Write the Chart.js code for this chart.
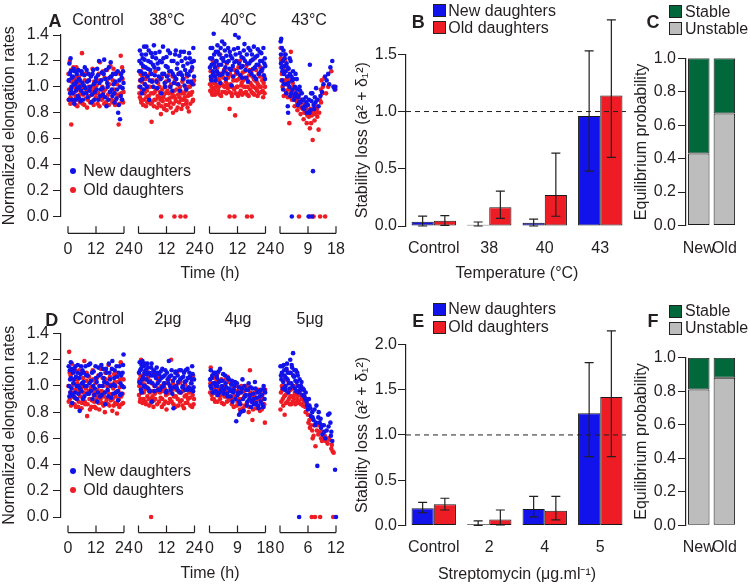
<!DOCTYPE html>
<html>
<head>
<meta charset="utf-8">
<script src="https://cdn.jsdelivr.net/npm/chart.js@4.4.1/dist/chart.umd.min.js"></script>
<style>
  body { margin: 0; background: #fff; }
  #fig { position: relative; width: 750px; height: 587px; overflow: hidden;
         font-family: "Liberation Sans", Arial, sans-serif; color: #231f20; }
  #fig canvas { position: absolute; left: 0; top: 0; }
  .t { position: absolute; white-space: nowrap; font-size: 16px; line-height: 1; transform: translate(-50%, -50%); }
  .l { position: absolute; white-space: nowrap; font-size: 16px; line-height: 1; transform: translateY(-50%); }
  .letter { font-weight: bold; font-size: 18px; }
  .sw { position: absolute; width: 13px; height: 13px; border: 1px solid #222; box-sizing: border-box; }
  .dot { position: absolute; width: 6px; height: 6px; border-radius: 50%; transform: translate(-50%, -50%); }
</style>
</head>
<body>
<div id="fig"></div>
<script>
// ---- data: elongation rates [time (h), normalized rate] ----
const aCtrlNew = [[0.3,1.05],[0.6,1.18],[0.9,0.95],[1.1,1.22],[1.2,1.12],[1.5,1.0],[1.8,0.9],[2.1,1.08],[2.4,1.14],[2.7,0.87],[3.0,1.02],[3.4,0.97],[3.8,1.1],[4.2,0.93],[4.6,1.06],[5.0,1.0],[5.4,0.89],[5.8,1.12],[6.2,1.03],[6.6,0.95],[7.0,1.09],[7.5,0.99],[8.0,1.13],[8.5,0.92],[9.0,1.05],[9.5,1.0],[10.0,0.88],[10.5,1.1],[11.0,1.02],[11.5,0.96],[12.0,1.07],[12.5,1.14],[13.0,0.9],[13.5,1.03],[14.0,0.98],[14.5,1.11],[15.0,0.94],[15.5,1.21],[16.0,1.06],[16.5,0.85],[17.0,1.0],[17.5,1.15],[18.0,0.96],[18.5,1.08],[19.0,0.93],[19.5,1.02],[20.0,0.88],[20.5,1.1],[21.0,0.98],[21.5,0.8],[22.0,1.05],[22.3,0.75],[22.6,0.93],[23.0,1.07],[23.4,0.99],[23.8,1.03],
  [0.4,0.9],[0.8,1.1],[1.3,0.98],[1.6,1.07],[2.0,0.95],[2.5,1.02],[2.9,1.12],[3.2,0.9],[3.6,1.04],[4.0,0.99],[4.4,1.13],[4.8,0.91],[5.2,1.05],[5.6,0.97],[6.0,1.1],[6.4,0.9],[6.8,1.01],[7.2,1.15],[7.8,0.95],[8.2,1.04],[8.8,1.1],[9.2,0.97],[9.8,1.08],[10.3,0.94],[10.8,1.13],[11.3,0.9],[11.8,1.04],[12.3,0.98],[12.8,1.09],[13.3,1.2],[13.8,0.93],[14.3,1.05],[14.8,0.99],[15.3,1.1],[15.8,0.92],[16.3,1.13],[16.8,1.03],[17.3,0.9],[17.8,1.07],[18.3,1.19],[18.8,0.98],[19.3,1.1],[19.8,0.95],[20.3,1.04],[20.8,0.91],[21.3,1.12],[21.8,0.86],[22.4,1.0],[22.8,1.1],[23.2,0.9],[23.6,1.12]];
const aCtrlOld = [[0.2,1.1],[0.5,0.98],[0.8,1.2],[1.1,0.92],[1.4,0.71],[1.7,1.04],[2.0,0.88],[2.3,1.15],[2.6,0.95],[3.0,1.0],[3.4,0.86],[3.8,1.08],[4.2,0.9],[4.6,1.02],[5.0,0.94],[5.5,1.12],[6.0,1.26],[6.3,0.87],[6.7,0.99],[7.2,1.05],[7.7,0.91],[8.2,0.84],[8.7,1.0],[9.2,0.93],[9.7,1.09],[10.2,0.97],[10.7,0.89],[11.2,1.04],[11.7,0.95],[12.2,1.01],[12.7,0.87],[13.2,1.1],[13.7,1.19],[14.2,0.92],[14.7,1.0],[15.2,0.96],[15.7,1.07],[16.2,0.88],[16.7,1.13],[17.2,0.94],[17.7,1.02],[18.2,1.16],[18.7,0.9],[19.2,1.05],[19.7,0.98],[20.2,0.86],[20.7,1.11],[21.2,0.93],[21.7,0.71],[22.2,1.0],[22.6,1.24],[23.0,0.9],[23.4,1.06],[23.8,0.96],
  [0.3,0.9],[0.7,1.05],[1.0,0.87],[1.3,1.13],[1.6,0.96],[2.2,1.0],[2.5,0.89],[2.8,1.06],[3.2,0.93],[3.6,1.15],[4.0,0.85],[4.4,0.98],[4.8,1.08],[5.2,0.88],[5.8,1.0],[6.5,0.94],[7.0,0.86],[7.5,1.1],[8.0,0.97],[8.5,0.9],[9.0,1.05],[9.5,0.88],[10.0,1.0],[10.5,1.14],[11.0,0.86],[11.5,0.99],[12.0,0.92],[12.5,1.05],[13.0,0.95],[13.5,0.85],[14.0,1.05],[14.5,0.9],[15.0,1.12],[15.5,0.87],[16.0,0.98],[16.5,0.92],[17.0,1.06],[17.5,0.86],[18.0,0.96],[18.5,1.08],[19.0,0.88],[19.5,1.14],[20.0,0.95],[20.5,0.9],[21.0,1.02],[21.5,0.94],[22.0,0.87],[22.4,1.1],[22.8,0.95],[23.2,1.15],[23.6,0.88]];
const a38New = [[0.3,1.12],[0.6,1.28],[0.9,1.05],[1.2,1.18],[1.5,0.95],[1.8,1.22],[2.1,1.1],[2.4,1.31],[2.7,1.02],[3.0,1.15],[3.4,1.31],[3.8,1.08],[4.2,1.2],[4.6,0.9],[5.0,1.13],[5.4,1.26],[5.8,1.04],[6.2,1.17],[6.6,1.32],[7.0,1.09],[7.5,1.22],[8.0,0.99],[8.5,1.14],[9.0,1.27],[9.5,1.06],[10.0,1.19],[10.5,1.31],[11.0,1.1],[11.5,1.0],[12.0,1.23],[12.5,1.15],[13.0,1.05],[13.5,1.26],[14.0,1.12],[14.5,0.97],[15.0,1.2],[15.5,1.08],[16.0,1.28],[16.5,1.14],[17.0,1.02],[17.5,1.24],[18.0,1.11],[18.5,1.2],[19.0,1.06],[19.5,1.27],[20.0,1.13],[20.5,0.98],[21.0,1.18],[21.5,1.09],[22.0,1.22],[22.5,1.04],[23.0,1.15],[23.5,1.3],[23.8,1.08],
  [0.4,1.2],[0.8,1.0],[1.0,1.12],[1.4,1.25],[1.7,1.06],[2.0,1.16],[2.3,0.98],[2.6,1.21],[2.9,1.1],[3.2,1.25],[3.6,1.0],[4.0,1.14],[4.4,1.28],[4.8,1.05],[5.2,1.19],[5.6,1.1],[6.0,1.23],[6.4,1.0],[6.8,1.15],[7.2,1.26],[7.7,1.04],[8.2,1.18],[8.7,1.08],[9.2,1.2],[9.7,0.95],[10.2,1.1],[10.7,1.22],[11.2,1.03],[11.7,1.16],[12.2,1.08],[12.7,1.28],[13.2,1.12],[13.7,1.0],[14.2,1.2],[14.7,1.1],[15.2,1.03],[15.7,1.25],[16.2,1.06],[16.7,1.18],[17.2,1.1],[17.7,0.97],[18.2,1.27],[18.7,1.09],[19.2,1.16],[19.7,1.01],[20.2,1.22],[20.7,1.1],[21.2,1.04],[21.7,1.26],[22.2,1.12],[22.7,1.19],[23.2,1.02],[23.7,1.2]];
const a38Old = [[0.3,1.0],[0.6,0.92],[0.9,1.1],[1.2,0.88],[1.5,1.04],[1.8,0.96],[2.1,1.15],[2.4,0.9],[2.8,1.02],[3.2,0.85],[3.6,0.97],[4.0,1.08],[4.4,0.93],[4.8,1.0],[5.2,0.87],[5.6,0.73],[6.0,1.05],[6.4,0.95],[6.8,0.9],[7.2,1.12],[7.6,0.98],[8.0,0.84],[8.4,1.03],[8.8,0.92],[9.2,0.96],[9.6,0.79],[10.0,1.07],[10.4,0.89],[10.8,0.94],[11.2,1.0],[11.6,0.86],[12.0,0.82],[12.4,0.97],[12.8,1.09],[13.2,0.91],[13.6,0.88],[14.0,1.02],[14.4,0.95],[14.8,0.8],[15.2,0.93],[15.6,1.05],[16.0,0.89],[16.4,0.98],[16.8,0.84],[17.2,1.1],[17.6,0.92],[18.0,0.97],[18.4,0.83],[18.8,1.04],[19.2,0.9],[19.6,0.95],[20.0,1.0],[20.4,0.87],[20.8,1.08],[21.2,0.93],[21.6,0.81],[22.0,1.0],[22.4,0.94],[22.8,1.13],[23.2,0.89],[23.6,1.02],
  [0.4,0.95],[0.7,1.05],[1.0,0.9],[1.4,0.98],[1.7,1.08],[2.0,0.86],[2.6,0.95],[3.0,1.06],[3.4,0.92],[3.8,0.88],[4.2,1.0],[4.6,0.9],[5.0,1.1],[5.4,0.95],[5.8,0.88],[6.2,1.0],[6.6,0.85],[7.0,0.96],[7.4,0.9],[7.8,1.05],[8.2,0.93],[8.6,0.87],[9.0,1.0],[9.4,0.9],[9.8,0.85],[10.2,0.98],[10.6,0.92],[11.0,0.83],[11.4,0.95],[11.8,1.04],[12.2,0.9],[12.6,0.86],[13.0,0.95],[13.4,1.0],[13.8,0.84],[14.2,0.92],[14.6,1.08],[15.0,0.87],[15.4,0.97],[15.8,0.91],[16.2,0.82],[16.6,1.02],[17.0,0.94],[17.4,0.88],[17.8,1.0],[18.2,0.9],[18.6,0.95],[19.0,0.86],[19.4,1.06],[19.8,0.92],[20.2,0.97],[20.6,0.89],[21.0,0.84],[21.4,1.0],[21.8,0.95],[22.2,0.87],[22.6,1.03],[23.0,0.96],[23.4,0.9],[23.8,1.05],
  [9.7,0],[15.4,0],[18.0,0],[20.1,0]];
const a40New = [[0.2,1.15],[0.5,1.3],[0.8,1.05],[1.1,1.22],[1.4,1.12],[1.8,1.41],[2.1,1.18],[2.4,1.08],[2.7,1.27],[3.0,1.2],[3.4,1.32],[3.8,1.1],[4.2,1.25],[4.6,1.03],[5.0,1.17],[5.4,1.35],[5.8,1.22],[6.2,1.12],[6.6,1.28],[7.0,1.06],[7.5,1.19],[8.0,1.3],[8.5,1.14],[9.0,1.24],[9.5,1.01],[10.0,1.16],[10.5,1.29],[11.0,1.4],[11.5,1.2],[12.0,1.11],[12.5,1.38],[13.0,1.26],[13.5,1.15],[14.0,1.07],[14.5,1.22],[15.0,1.33],[15.5,1.13],[16.0,1.25],[16.5,1.04],[17.0,1.18],[17.5,1.28],[18.0,1.1],[18.5,1.21],[19.0,1.31],[19.5,1.15],[20.0,1.06],[20.5,1.24],[21.0,1.17],[21.5,1.27],[22.0,1.12],[22.5,1.2],[23.0,1.45],[23.3,1.09],[23.7,1.22],[23.9,1.16],
  [0.3,1.22],[0.6,1.08],[0.9,1.17],[1.2,1.3],[1.6,1.1],[2.0,1.25],[2.3,1.15],[2.6,1.05],[2.9,1.2],[3.2,1.12],[3.6,1.27],[4.0,1.17],[4.4,1.09],[4.8,1.3],[5.2,1.22],[5.6,1.1],[6.0,1.2],[6.4,1.33],[6.8,1.15],[7.2,1.24],[7.7,1.1],[8.2,1.2],[8.7,1.27],[9.2,1.13],[9.7,1.22],[10.2,1.08],[10.7,1.19],[11.2,1.25],[11.7,1.12],[12.2,1.3],[12.7,1.18],[13.2,1.09],[13.7,1.23],[14.2,1.16],[14.7,1.28],[15.2,1.2],[15.7,1.07],[16.2,1.18],[16.7,1.3],[17.2,1.12],[17.7,1.2],[18.2,1.25],[18.7,1.14],[19.2,1.08],[19.7,1.23],[20.2,1.17],[20.7,1.29],[21.2,1.1],[21.7,1.2],[22.2,1.26],[22.7,1.14],[23.1,1.3],[23.5,1.18],[23.8,1.06]];
const a40Old = [[0.2,1.02],[0.5,1.12],[0.8,0.96],[1.1,1.07],[1.4,1.2],[1.7,0.99],[2.0,1.04],[2.3,0.94],[2.6,1.1],[3.0,1.0],[3.4,1.15],[3.8,0.97],[4.2,1.05],[4.6,1.25],[5.0,0.93],[5.4,1.08],[5.8,1.01],[6.2,1.13],[6.6,0.96],[7.0,1.04],[7.4,1.18],[7.8,0.99],[8.2,1.09],[8.6,0.83],[9.0,1.02],[9.4,0.95],[9.8,1.14],[10.2,1.05],[10.6,0.98],[11.0,0.78],[11.4,1.1],[11.8,1.0],[12.2,0.93],[12.6,1.06],[13.0,1.2],[13.4,0.97],[13.8,1.03],[14.2,1.11],[14.6,0.95],[15.0,1.07],[15.4,1.0],[15.8,1.16],[16.2,0.94],[16.6,1.04],[17.0,1.09],[17.4,0.98],[17.8,1.12],[18.2,1.01],[18.6,0.95],[19.0,1.06],[19.4,1.22],[19.8,0.99],[20.2,1.04],[20.6,0.93],[21.0,1.1],[21.4,1.0],[21.8,1.15],[22.2,0.96],[22.6,1.05],[23.0,0.92],[23.4,1.08],[23.8,1.0],
  [0.3,0.97],[0.6,1.06],[0.9,1.0],[1.2,0.94],[1.6,1.1],[1.9,1.03],[2.2,0.97],[2.5,1.15],[2.8,1.02],[3.2,0.95],[3.6,1.06],[4.0,1.0],[4.4,0.94],[4.8,1.1],[5.2,1.02],[5.6,0.96],[6.0,1.07],[6.4,1.0],[6.8,1.12],[7.2,0.95],[7.6,1.02],[8.0,1.07],[8.4,0.96],[8.8,1.1],[9.2,1.0],[9.6,0.93],[10.0,1.08],[10.4,0.99],[10.8,1.13],[11.2,0.95],[11.6,1.05],[12.0,1.0],[12.4,1.15],[12.8,0.95],[13.2,1.08],[13.6,1.01],[14.0,0.94],[14.4,1.05],[14.8,1.0],[15.2,1.12],[15.6,0.96],[16.0,1.06],[16.4,1.0],[16.8,0.93],[17.2,1.13],[17.6,1.03],[18.0,0.96],[18.4,1.08],[18.8,1.0],[19.2,0.94],[19.6,1.05],[20.0,1.13],[20.4,0.97],[20.8,1.02],[21.2,0.95],[21.6,1.08],[22.0,1.0],[22.4,1.12],[22.8,0.97],[23.2,1.03],[23.6,0.95],
  [8.6,0],[10.7,0],[16.1,0],[18.1,0]];
const a43New = [[0.2,1.35],[0.4,1.37],[0.3,1.25],[0.5,1.15],[0.7,1.05],[0.9,1.2],[1.1,1.28],[1.0,0.98],[1.3,1.1],[1.5,1.22],[1.7,1.12],[1.9,1.02],[2.1,1.18],[2.3,1.08],[2.5,0.85],[2.6,0.8],[2.8,1.14],[3.0,1.0],[3.2,1.1],[3.4,1.2],[3.6,0.95],[3.9,1.05],[4.2,1.12],[4.5,0.9],[4.8,1.0],[5.1,0.95],[5.4,1.06],[5.7,0.86],[6.0,0.93],[6.3,1.0],[6.6,0.88],[7.0,0.95],[7.3,0.84],[7.6,0.9],[8.0,0.85],[8.3,0.92],[8.6,0.8],[9.0,0.86],[9.3,0.9],[9.6,1.17],[9.8,0.82],[10.1,0.89],[10.4,0.95],[10.6,0.35],[10.8,0.86],[11.2,0.92],[11.6,0.99],[12.0,0.9],[12.4,0.85],[13.0,0.93],[14.0,1.02],[14.5,1.08],[15.0,1.05],[15.5,1.1],[16.2,1.15],[16.8,1.2],[17.2,1.0],[17.6,0.98],
  [0.3,1.18],[0.6,1.3],[0.8,1.12],[1.2,1.02],[1.4,1.16],[1.8,1.25],[2.0,0.95],[2.4,1.15],[2.7,1.03],[3.1,1.22],[3.3,0.93],[3.7,1.08],[4.0,0.98],[4.4,1.06],[4.7,0.93],[5.0,1.1],[5.5,0.98],[5.8,0.92],[6.2,0.88],[6.5,0.97],[7.2,0.9],[7.8,0.83],[8.5,0.88],[9.5,0.8],[10.0,0.95],[11.0,0.83],[11.4,0.88],[13.5,0.96],[15.8,1.02],[17.8,1.0],
  [3.8,0],[9.2,0],[10.3,0]];
const a43Old = [[0.2,1.3],[0.4,1.2],[0.6,1.1],[0.8,1.0],[1.0,1.15],[1.2,0.93],[1.4,1.25],[1.6,1.05],[1.8,0.97],[2.0,1.12],[2.2,1.02],[2.5,0.92],[2.8,1.08],[3.0,0.72],[3.2,0.98],[3.5,1.27],[3.8,0.9],[4.1,1.03],[4.4,0.95],[4.7,0.85],[5.0,0.99],[5.3,0.9],[5.6,0.82],[6.0,0.94],[6.3,0.87],[6.6,0.79],[7.0,0.9],[7.3,0.83],[7.6,0.75],[8.0,0.86],[8.3,0.8],[8.6,0.72],[9.0,0.82],[9.3,0.77],[9.6,0.68],[9.9,0.83],[10.2,0.78],[10.5,0.59],[10.8,0.8],[11.1,0.74],[11.4,0.85],[11.7,0.8],[12.0,0.77],[12.4,0.67],[12.8,0.9],[13.1,0.98],[13.4,1.05],[13.8,1.0],[14.3,1.07],[14.8,0.95],[15.5,1.0],[16.5,1.12],[17.3,1.0],[17.8,0.98],
  [0.3,1.22],[0.5,1.05],[0.9,1.12],[1.3,1.02],[1.7,1.2],[2.1,0.95],[2.4,1.06],[2.7,0.98],[3.3,1.05],[3.6,0.92],[4.0,0.97],[4.3,1.0],[4.6,0.9],[5.1,0.93],[5.5,0.88],[5.9,0.85],[6.2,0.9],[6.8,0.84],[7.2,0.88],[7.8,0.8],[8.4,0.84],[8.8,0.78],[9.4,0.8],[10.0,0.72],[10.6,0.82],[11.3,0.79],[11.9,0.83],[12.6,0.8],[13.2,0.88],[13.6,0.95],
  [6.1,0],[9.6,0],[10.8,0],[12.9,0],[14.5,0]];

const dCtrlNew = [[0.3,1.15],[0.6,0.92],[0.9,1.05],[1.2,1.18],[1.5,0.98],[1.8,0.87],[2.1,1.1],[2.4,1.02],[2.7,1.13],[3.0,0.95],[3.4,1.07],[3.8,0.9],[4.2,1.16],[4.6,1.0],[5.0,0.81],[5.4,1.09],[5.8,0.96],[6.2,1.12],[6.6,1.03],[7.0,0.92],[7.5,1.15],[8.0,1.0],[8.5,1.08],[9.0,0.94],[9.5,1.17],[10.0,1.04],[10.5,0.9],[11.0,1.11],[11.5,0.98],[12.0,1.06],[12.5,0.88],[13.0,1.14],[13.5,1.0],[14.0,1.09],[14.5,0.93],[15.0,1.13],[15.5,1.03],[16.0,0.86],[16.5,1.1],[17.0,0.97],[17.5,1.17],[18.0,1.05],[18.5,0.91],[19.0,1.19],[19.5,1.01],[20.0,1.12],[20.5,0.95],[21.0,1.07],[21.5,0.89],[22.0,1.15],[22.5,1.02],[23.0,0.94],[23.4,1.1],[23.8,1.24],[23.9,0.99],
  [0.4,1.0],[0.8,1.12],[1.0,0.95],[1.3,1.06],[1.7,1.13],[2.0,0.93],[2.6,1.05],[2.9,0.91],[3.2,1.15],[3.6,1.0],[4.0,1.1],[4.4,0.94],[4.8,1.06],[5.2,0.98],[5.6,1.15],[6.0,1.02],[6.4,0.9],[6.8,1.1],[7.2,1.0],[7.8,1.08],[8.3,0.94],[8.8,1.16],[9.2,1.02],[9.8,0.96],[10.3,1.1],[10.8,1.0],[11.3,0.93],[11.8,1.15],[12.3,1.03],[12.8,0.95],[13.3,1.08],[13.8,0.92],[14.3,1.16],[14.8,1.0],[15.3,1.06],[15.8,0.95],[16.3,1.13],[16.8,1.02],[17.3,0.92],[17.8,1.1],[18.3,1.0],[18.8,1.13],[19.3,0.94],[19.8,1.06],[20.3,1.0],[20.8,1.15],[21.3,0.96],[21.8,1.1],[22.3,0.93],[22.8,1.08],[23.2,1.0],[23.6,1.16]];
const dCtrlOld = [[0.2,1.0],[0.5,1.26],[0.8,0.9],[1.1,1.08],[1.4,0.95],[1.7,1.17],[2.0,0.86],[2.3,1.02],[2.6,0.92],[3.0,1.12],[3.4,0.84],[3.8,0.97],[4.2,1.05],[4.6,0.88],[5.0,0.95],[5.4,1.1],[5.8,0.83],[6.2,1.0],[6.6,0.91],[7.0,1.19],[7.4,0.86],[7.8,1.04],[8.2,0.77],[8.6,0.94],[9.0,1.07],[9.4,0.82],[9.8,0.99],[10.2,0.89],[10.6,1.12],[11.0,0.93],[11.4,0.84],[11.8,1.02],[12.2,0.9],[12.6,0.97],[13.0,1.08],[13.4,0.82],[13.8,0.95],[14.2,1.13],[14.6,0.87],[15.0,1.0],[15.4,0.92],[15.8,0.8],[16.2,1.05],[16.6,0.9],[17.0,0.96],[17.4,1.16],[17.8,0.85],[18.2,1.01],[18.6,0.93],[19.0,0.81],[19.4,0.98],[19.8,1.09],[20.2,0.87],[20.6,0.95],[21.0,0.79],[21.4,1.03],[21.8,0.9],[22.2,0.99],[22.6,1.18],[23.0,0.86],[23.4,0.94],[23.8,1.05],
  [0.3,0.88],[0.7,1.1],[1.0,0.95],[1.3,0.85],[1.6,1.0],[1.9,0.92],[2.2,1.1],[2.8,0.86],[3.2,0.97],[3.6,0.9],[4.0,1.02],[4.4,0.84],[4.8,1.12],[5.2,0.92],[5.6,0.98],[6.0,0.87],[6.4,1.06],[6.8,0.95],[7.2,0.88],[7.6,0.98],[8.0,1.1],[8.4,0.86],[8.8,0.96],[9.2,0.9],[9.6,1.04],[10.0,0.84],[10.4,0.97],[10.8,1.05],[11.2,0.88],[11.6,0.95],[12.0,0.83],[12.4,1.06],[12.8,0.92],[13.2,0.87],[13.6,1.0],[14.0,0.9],[14.4,0.96],[14.8,1.06],[15.2,0.85],[15.6,0.95],[16.0,1.1],[16.4,0.88],[16.8,1.0],[17.2,0.86],[17.6,0.94],[18.0,1.07],[18.4,0.89],[18.8,1.0],[19.2,0.9],[19.6,0.85],[20.0,1.03],[20.4,0.92],[20.8,1.1],[21.2,0.86],[21.6,0.96],[22.0,0.84],[22.4,1.05],[22.8,0.92],[23.2,1.0],[23.6,0.87]];
const d2New = [[0.2,1.1],[0.5,1.18],[0.8,1.02],[1.1,1.13],[1.4,0.95],[1.7,1.19],[2.0,1.07],[2.3,1.15],[2.6,1.0],[3.0,1.12],[3.4,1.05],[3.8,1.17],[4.2,0.98],[4.6,1.1],[5.0,1.03],[5.4,1.14],[5.8,0.88],[6.2,1.08],[6.6,1.12],[7.0,1.0],[7.5,1.06],[8.0,1.1],[8.5,0.97],[9.0,1.04],[9.5,1.11],[10.0,0.99],[10.5,1.07],[11.0,1.02],[11.5,1.12],[12.0,0.96],[12.5,1.05],[13.0,1.19],[13.5,1.0],[14.0,1.08],[14.5,0.94],[15.0,0.83],[15.5,1.06],[16.0,1.11],[16.5,0.98],[17.0,1.03],[17.5,1.12],[18.0,0.95],[18.5,1.06],[19.0,1.0],[19.5,1.1],[20.0,0.97],[20.5,1.04],[21.0,1.13],[21.5,0.99],[22.0,1.07],[22.5,1.02],[23.0,1.15],[23.4,0.96],[23.8,1.05],
  [0.3,1.03],[0.7,1.12],[1.0,0.97],[1.3,1.16],[1.6,1.05],[2.2,1.0],[2.5,1.1],[2.8,1.17],[3.2,0.99],[3.6,1.09],[4.0,1.14],[4.4,1.03],[4.8,0.96],[5.2,1.08],[5.6,1.17],[6.0,1.02],[6.4,1.11],[6.8,0.96],[7.2,1.08],[7.8,1.14],[8.2,1.02],[8.8,1.09],[9.2,0.97],[9.8,1.06],[10.2,1.13],[10.8,1.0],[11.2,1.08],[11.8,0.95],[12.2,1.1],[12.8,1.02],[13.2,1.07],[13.8,0.97],[14.2,1.12],[14.8,1.04],[15.2,0.99],[15.8,1.1],[16.2,1.0],[16.8,1.08],[17.2,0.96],[17.8,1.05],[18.2,1.12],[18.8,0.99],[19.2,1.07],[19.8,1.03],[20.2,1.12],[20.8,0.97],[21.2,1.06],[21.8,1.1],[22.2,0.97],[22.8,1.05],[23.2,1.09],[23.6,0.99]];
const d2Old = [[0.2,0.93],[0.5,1.05],[0.8,0.9],[1.1,1.2],[1.4,0.98],[1.7,0.87],[2.0,1.08],[2.3,0.95],[2.6,1.01],[3.0,0.88],[3.4,1.12],[3.8,0.92],[4.2,0.97],[4.6,0.85],[5.0,1.04],[5.4,0.9],[5.8,0.96],[6.2,1.1],[6.6,0.89],[7.0,0.94],[7.5,1.0],[8.0,0.86],[8.5,0.98],[9.0,1.07],[9.5,0.91],[10.0,0.84],[10.5,0.96],[11.0,1.02],[11.5,0.88],[12.0,0.82],[12.5,0.94],[13.0,1.05],[13.5,0.9],[14.0,1.2],[14.5,0.97],[15.0,0.86],[15.5,1.0],[16.0,0.92],[16.5,1.1],[17.0,0.85],[17.5,0.95],[18.0,1.03],[18.5,0.89],[19.0,0.96],[19.5,0.83],[20.0,1.01],[20.5,0.93],[21.0,0.87],[21.5,1.06],[22.0,0.91],[22.5,0.98],[23.0,0.84],[23.4,1.08],[23.8,0.9],
  [0.3,1.0],[0.6,0.88],[0.9,1.08],[1.2,0.95],[1.6,1.02],[2.2,0.9],[2.5,0.97],[2.8,1.05],[3.2,0.86],[3.6,0.99],[4.0,1.06],[4.4,0.9],[4.8,0.95],[5.2,0.87],[5.6,1.02],[6.0,0.92],[6.4,0.84],[6.8,1.0],[7.2,0.9],[7.8,0.96],[8.2,1.05],[8.8,0.88],[9.2,0.95],[9.8,1.0],[10.2,0.9],[10.8,0.86],[11.2,0.98],[11.8,0.93],[12.2,1.02],[12.8,0.87],[13.2,0.95],[13.8,0.98],[14.2,0.88],[14.8,1.02],[15.2,0.92],[15.8,0.84],[16.2,0.97],[16.8,0.9],[17.2,1.02],[17.8,0.88],[18.2,0.95],[18.8,0.85],[19.2,1.0],[19.8,0.92],[20.2,0.87],[20.8,0.98],[21.2,0.9],[21.8,0.95],[22.2,0.85],[22.8,1.02],[23.2,0.93],[23.6,0.86],
  [5.4,0]];
const d4New = [[0.2,1.05],[0.4,1.12],[0.6,0.98],[0.9,1.08],[1.2,1.02],[1.5,0.95],[1.8,1.1],[2.1,1.0],[2.4,1.06],[2.7,0.93],[3.0,1.03],[3.4,1.13],[3.8,0.97],[4.2,1.04],[4.6,0.94],[5.0,1.08],[5.4,0.99],[5.8,0.92],[6.2,1.05],[6.6,0.96],[7.0,1.01],[7.4,0.88],[7.8,0.97],[8.2,1.03],[8.6,0.73],[9.0,0.93],[9.4,0.99],[9.5,0.78],[9.8,0.86],[10.0,0.8],[10.2,0.95],[10.6,1.05],[11.0,0.81],[11.4,0.92],[11.8,0.97],[12.2,0.88],[12.6,1.02],[13.0,0.93],[13.4,0.84],[13.8,0.98],[14.2,0.9],[14.6,1.03],[15.0,0.87],[15.4,0.95],[15.8,0.83],[16.2,0.92],[16.6,0.97],[17.0,0.86],[17.4,1.0],[17.7,0.9],[17.9,0.95],
  [0.3,1.0],[0.7,1.06],[1.0,0.95],[1.4,1.1],[1.7,1.02],[2.0,0.96],[2.3,1.08],[2.6,1.0],[2.9,1.11],[3.2,0.95],[3.6,1.04],[4.0,1.0],[4.4,1.09],[4.8,0.97],[5.2,1.02],[5.6,0.94],[6.0,1.06],[6.4,0.98],[6.8,0.92],[7.2,1.04],[7.6,0.95],[8.0,1.0],[8.4,0.9],[8.8,1.02],[9.2,0.95],[9.6,0.88],[10.4,0.98],[10.8,0.9],[11.2,1.0],[11.6,0.93],[12.0,0.85],[12.4,0.97],[12.8,0.9],[13.2,0.99],[13.6,0.88],[14.0,0.94],[14.4,0.86],[14.8,0.98],[15.2,0.91],[15.6,0.85],[16.0,0.96],[16.4,0.88],[16.8,0.93],[17.2,0.84],[17.6,0.97]];
const d4Old = [[0.2,0.95],[0.4,1.14],[0.6,1.0],[0.9,0.9],[1.2,1.06],[1.5,0.97],[1.8,0.88],[2.1,1.03],[2.4,0.93],[2.7,1.1],[3.0,0.98],[3.4,0.9],[3.8,1.05],[4.2,0.95],[4.6,0.86],[5.0,1.0],[5.4,0.92],[5.8,1.07],[6.2,0.89],[6.6,0.97],[7.0,1.02],[7.4,0.91],[7.8,0.84],[8.2,0.96],[8.6,1.0],[9.0,0.88],[9.4,0.94],[9.8,0.82],[10.2,1.0],[10.6,0.9],[11.0,0.96],[11.4,0.85],[11.8,0.93],[12.2,0.99],[12.6,0.8],[13.0,1.12],[13.4,0.91],[13.8,0.74],[14.2,0.87],[14.6,0.95],[15.0,0.83],[15.4,0.9],[15.8,0.97],[16.2,0.81],[16.6,0.88],[17.0,0.93],[17.4,0.84],[17.8,0.72],[17.9,0.97],
  [0.3,1.02],[0.7,0.93],[1.0,1.08],[1.4,0.9],[1.7,1.0],[2.0,0.95],[2.3,1.08],[2.6,0.88],[2.9,0.97],[3.2,1.04],[3.6,0.93],[4.0,0.87],[4.4,1.0],[4.8,0.92],[5.2,1.05],[5.6,0.88],[6.0,0.96],[6.4,1.03],[6.8,0.9],[7.2,0.86],[7.6,0.98],[8.0,0.92],[8.4,1.02],[8.8,0.85],[9.2,0.96],[9.6,0.9],[10.0,0.86],[10.4,0.97],[10.8,0.83],[11.2,0.92],[11.6,1.0],[12.0,0.87],[12.4,0.93],[12.8,0.84],[13.2,0.95],[13.6,0.88],[14.0,0.82],[14.4,0.93],[14.8,0.88],[15.2,0.96],[15.6,0.84],[16.0,0.9],[16.4,0.95],[16.8,0.82],[17.2,0.9],[17.6,0.86]];
const d5New = [[0.1,1.15],[0.3,1.05],[0.4,1.1],[0.6,0.98],[0.8,1.16],[1.0,1.08],[1.2,1.0],[1.4,1.13],[1.6,1.05],[1.8,0.95],[2.0,1.1],[2.2,1.2],[2.4,1.02],[2.6,1.14],[2.8,1.25],[3.0,1.07],[3.2,0.98],[3.4,1.12],[3.6,1.03],[3.8,1.08],[4.0,0.95],[4.2,1.05],[4.5,1.0],[4.8,0.93],[5.1,0.97],[5.4,0.9],[5.7,0.88],[6.0,0.82],[6.3,0.85],[6.6,0.77],[6.9,0.8],[7.2,0.74],[7.5,0.7],[7.8,0.85],[8.0,0.39],[8.2,0.76],[8.5,0.72],[8.8,0.68],[9.1,0.63],[9.4,0.7],[9.7,0.6],[10.0,0.66],[10.3,0.78],[10.6,0.79],[10.9,0.62],[11.2,0.58],[11.8,0.36],
  [0.2,1.08],[0.5,1.15],[0.7,1.03],[0.9,1.12],[1.1,0.97],[1.3,1.06],[1.5,1.17],[1.7,1.1],[1.9,1.02],[2.1,0.98],[2.3,1.1],[2.5,1.16],[2.7,1.0],[2.9,1.08],[3.1,1.12],[3.3,1.04],[3.5,0.96],[3.7,1.1],[3.9,1.0],[4.3,0.97],[4.6,1.03],[4.9,0.98],[5.2,0.92],[5.5,0.95],[5.8,0.85],[6.2,0.9],[6.5,0.83],[7.0,0.76],[7.4,0.82],[7.7,0.72],[8.3,0.8],[8.7,0.75],[9.0,0.7],[9.5,0.65],[10.4,0.69],[10.8,0.72],[11.0,0.65],
  [4.1,0],[12.0,0]];
const d5Old = [[0.1,0.82],[0.2,0.95],[0.4,1.0],[0.6,0.9],[0.8,1.05],[1.0,0.78],[1.2,0.93],[1.4,1.12],[1.6,0.88],[1.8,0.97],[2.0,1.02],[2.2,0.92],[2.4,0.86],[2.6,0.98],[2.8,1.08],[3.0,0.9],[3.2,0.95],[3.4,0.87],[3.6,1.0],[3.8,0.93],[4.0,0.88],[4.3,0.96],[4.6,0.9],[4.9,0.85],[5.2,0.92],[5.5,0.8],[5.8,0.86],[6.1,0.72],[6.4,0.68],[6.7,0.75],[7.0,0.6],[7.3,0.7],[7.6,0.54],[7.9,0.66],[8.2,0.63],[8.5,0.7],[8.8,0.6],[9.1,0.65],[9.4,0.62],[9.8,0.58],[10.2,0.56],[10.6,0.59],[11.0,0.52],[11.3,0.5],[11.5,0.49],
  [0.3,0.88],[0.5,0.97],[0.7,0.85],[0.9,0.92],[1.1,1.0],[1.3,0.87],[1.5,0.95],[1.7,1.04],[1.9,0.9],[2.1,0.86],[2.3,0.97],[2.5,0.92],[2.7,0.88],[2.9,1.0],[3.1,0.93],[3.3,0.86],[3.5,0.96],[3.7,0.9],[3.9,0.87],[4.2,0.93],[4.5,0.86],[4.8,0.92],[5.1,0.88],[5.4,0.84],[5.7,0.9],[6.0,0.78],[6.3,0.74],[6.6,0.7],[6.9,0.66],[7.2,0.62],[8.0,0.7],[8.4,0.65],[9.0,0.58],[9.6,0.62],[10.4,0.6],[11.1,0.55],
  [6.8,0],[7.5,0],[8.6,0],[11.4,0]];

// ---- data: stability loss bars ----
const tempCats = ['Control', '38', '40', '43'];
const tempNew = [0.037, 0.012, 0.028, 0.96];
const tempNewLo = [0.0, 0.0, 0.0, 0.48];
const tempNewHi = [0.087, 0.035, 0.06, 1.53];
const tempOld = [0.045, 0.163, 0.27, 1.14];
const tempOldLo = [0.005, 0.067, 0.085, 0.60];
const tempOldHi = [0.09, 0.305, 0.636, 1.80];

const strepCats = ['Control', '2', '4', '5'];
const strepNew = [0.19, 0.012, 0.18, 1.24];
const strepNewLo = [0.14, 0.0, 0.095, 0.76];
const strepNewHi = [0.255, 0.05, 0.32, 1.80];
const strepOld = [0.235, 0.065, 0.163, 1.42];
const strepOldLo = [0.17, 0.005, 0.06, 0.76];
const strepOldHi = [0.30, 0.17, 0.32, 2.15];

// ---- data: equilibrium probability ----
const eqCats = ['New', 'Old'];
const tempUnstable = [0.43, 0.67];
const tempStable = [0.57, 0.33];
const strepUnstable = [0.81, 0.88];
const strepStable = [0.19, 0.12];

const W = 750, H = 587;
const BLUE = '#1212ea', RED = '#ee1c24', GREEN = '#00683a', GREY = '#bdbdbd', INK = '#231f20';

Chart.defaults.font.family = '"Liberation Sans", Arial, sans-serif';
Chart.defaults.font.size = 16;
Chart.defaults.color = INK;
Chart.defaults.animation = false;

const fig = document.getElementById('fig');

function canvas() {
  const c = document.createElement('canvas');
  c.width = W; c.height = H;
  fig.appendChild(c);
  return c;
}

// chart area [left, top, right, bottom] in page pixels -> layout padding
function pad(area, yW, xH) {
  return { left: area[0] - yW, top: area[1], right: W - area[2], bottom: H - area[3] - xH };
}

function text(str, x, y, cls) {
  const d = document.createElement('div');
  d.className = cls || 't';
  d.textContent = str;
  d.style.left = x + 'px';
  d.style.top = y + 'px';
  fig.appendChild(d);
  return d;
}

function swatch(x, y, color) {
  const d = document.createElement('div');
  d.className = 'sw';
  d.style.left = x + 'px'; d.style.top = y + 'px'; d.style.background = color;
  fig.appendChild(d);
}

function dot(x, y, color) {
  const d = document.createElement('div');
  d.className = 'dot';
  d.style.left = x + 'px'; d.style.top = y + 'px'; d.style.background = color;
  fig.appendChild(d);
}

// R style time axis: a bracket under each sub panel, ticks pointing up
const bracket = {
  id: 'bracket',
  afterDraw(chart, args, opts) {
    const x = chart.scales.x, ctx = chart.ctx;
    const y0 = chart.chartArea.bottom + opts.offset;
    const t = opts.ticks;
    ctx.save();
    ctx.strokeStyle = INK;
    ctx.lineWidth = 1.2;
    ctx.beginPath();
    ctx.moveTo(x.getPixelForValue(t[0]), y0);
    ctx.lineTo(x.getPixelForValue(t[t.length - 1]), y0);
    t.forEach(v => {
      const px = x.getPixelForValue(v);
      ctx.moveTo(px, y0);
      ctx.lineTo(px, y0 - 7);
    });
    ctx.stroke();
    ctx.restore();
  }
};

const errorBars = {
  id: 'errorBars',
  afterDatasetsDraw(chart, args, opts) {
    const y = chart.scales.y, ctx = chart.ctx;
    ctx.save();
    ctx.strokeStyle = INK;
    ctx.lineWidth = 1.2;
    opts.ranges.forEach((r, i) => {
      chart.getDatasetMeta(i).data.forEach((bar, j) => {
        const lo = y.getPixelForValue(r[0][j]), hi = y.getPixelForValue(r[1][j]);
        ctx.beginPath();
        ctx.moveTo(bar.x, lo); ctx.lineTo(bar.x, hi);
        ctx.moveTo(bar.x - 4.5, lo); ctx.lineTo(bar.x + 4.5, lo);
        ctx.moveTo(bar.x - 4.5, hi); ctx.lineTo(bar.x + 4.5, hi);
        ctx.stroke();
      });
    });
    // dashed reference at 1.0
    const yr = y.getPixelForValue(opts.refLine);
    ctx.setLineDash([5, 4]);
    ctx.lineWidth = 1;
    ctx.beginPath();
    ctx.moveTo(chart.chartArea.left, yr);
    ctx.lineTo(chart.chartArea.right - 2, yr);
    ctx.stroke();
    ctx.restore();
  }
};

function pts(arr) { return arr.map(p => ({ x: p[0], y: p[1] })); }

function scatterPanel(area, yW, xMin, xMax, ticks, newPts, oldPts, labelPad, bracketOff) {
  new Chart(canvas(), {
    type: 'scatter',
    data: {
      datasets: [
        { data: pts(newPts), backgroundColor: BLUE, pointRadius: 2.3, borderWidth: 0, clip: false },
        { data: pts(oldPts), backgroundColor: RED, pointRadius: 2.3, borderWidth: 0, clip: false }
      ]
    },
    options: {
      responsive: false,
      devicePixelRatio: 1,
      layout: { padding: pad(area, yW, 40) },
      plugins: {
        legend: { display: false },
        tooltip: { enabled: false },
        bracket: { ticks: ticks, offset: bracketOff }
      },
      scales: {
        x: {
          type: 'linear', min: xMin, max: xMax,
          afterBuildTicks: s => { s.ticks = ticks.map(v => ({ value: v })); },
          afterFit: s => { s.height = 40; },
          grid: { display: false, drawTicks: false },
          border: { display: false },
          ticks: { padding: labelPad, maxRotation: 0, minRotation: 0, autoSkip: false, callback: v => v }
        },
        y: {
          min: 0, max: 1.4,
          display: yW > 0,
          afterFit: s => { s.width = yW; },
          grid: { drawOnChartArea: false, tickLength: 8, color: INK },
          border: { display: true, color: INK, width: 1.2 },
          ticks: { stepSize: 0.2, padding: 4, callback: v => v.toFixed(1) },
          title: { display: true, text: 'Normalized elongation rates', padding: 0 }
        }
      }
    },
    plugins: [bracket]
  });
}

function barPanel(area, cats, newV, oldV, ranges, yMax, xTitle, xH) {
  new Chart(canvas(), {
    type: 'bar',
    data: {
      labels: cats,
      datasets: [
        { data: newV, backgroundColor: BLUE, borderColor: '#1a1a1a', borderWidth: 1, borderSkipped: false },
        { data: oldV, backgroundColor: RED, borderColor: '#1a1a1a', borderWidth: 1, borderSkipped: false }
      ]
    },
    options: {
      responsive: false,
      devicePixelRatio: 1,
      layout: { padding: pad(area, 53, xH) },
      datasets: { bar: { categoryPercentage: 0.8, barPercentage: 1.0 } },
      plugins: {
        legend: { display: false },
        tooltip: { enabled: false },
        errorBars: { ranges: ranges, refLine: 1.0 }
      },
      scales: {
        x: {
          afterFit: s => { s.height = xH; },
          grid: { display: false, drawTicks: false },
          border: { display: false },
          ticks: { padding: 13, maxRotation: 0, minRotation: 0, autoSkip: false },
          title: { display: true, text: xTitle, padding: 0 }
        },
        y: {
          min: 0, max: yMax,
          afterFit: s => { s.width = 53; },
          grid: { drawOnChartArea: false, tickLength: 8, color: INK },
          border: { display: true, color: INK, width: 1.2 },
          ticks: { stepSize: 0.5, padding: 1, callback: v => v.toFixed(1) },
          title: { display: true, text: 'Stability loss (a² + δ₁²)', padding: 0 }
        }
      }
    },
    plugins: [errorBars]
  });
}

function stackPanel(area, unstable, stable) {
  new Chart(canvas(), {
    type: 'bar',
    data: {
      labels: eqCats,
      datasets: [
        { data: unstable, backgroundColor: GREY, borderColor: '#1a1a1a', borderWidth: 1, borderSkipped: false },
        { data: stable, backgroundColor: GREEN, borderColor: '#1a1a1a', borderWidth: 1, borderSkipped: false }
      ]
    },
    options: {
      responsive: false,
      devicePixelRatio: 1,
      layout: { padding: pad(area, 54, 40) },
      datasets: { bar: { categoryPercentage: 1.0, barPercentage: 0.84 } },
      plugins: { legend: { display: false }, tooltip: { enabled: false } },
      scales: {
        x: {
          stacked: true,
          afterFit: s => { s.height = 40; },
          grid: { display: false, drawTicks: false },
          border: { display: false },
          ticks: { padding: 13, maxRotation: 0, minRotation: 0, autoSkip: false }
        },
        y: {
          stacked: true, min: 0, max: 1,
          afterFit: s => { s.width = 54; },
          grid: { drawOnChartArea: false, tickLength: 8, color: INK },
          border: { display: true, color: INK, width: 1.2 },
          ticks: { stepSize: 0.2, padding: 2, callback: v => v.toFixed(1) },
          title: { display: true, text: 'Equilibrium probability', padding: 0 }
        }
      }
    }
  });
}

// ---- panel A ----
scatterPanel([61, 35, 124, 216.5], 61, -3, 24, [0, 12, 24], aCtrlNew, aCtrlOld, 23, 16.8);
scatterPanel([138.5, 35, 194.5, 216.5], 0, 0, 24, [0, 12, 24], a38New, a38Old, 23, 16.8);
scatterPanel([209.5, 35, 265.5, 216.5], 0, 0, 24, [0, 12, 24], a40New, a40Old, 23, 16.8);
scatterPanel([280, 35, 336, 216.5], 0, 0, 18, [0, 9, 18], a43New, a43Old, 23, 16.8);
text('A', 55, 21, 't letter');
text('Control', 98, 20); text('38°C', 167, 20); text('40°C', 238.7, 20); text('43°C', 309, 20);
dot(73.3, 171, BLUE); text('New daughters', 83.3, 171, 'l');
dot(73.3, 190, RED); text('Old daughters', 83.3, 190, 'l');
text('Time (h)', 210, 273);

// ---- panel D ----
scatterPanel([61, 333.5, 124, 517], 61, -3, 24, [0, 12, 24], dCtrlNew, dCtrlOld, 22, 15.6);
scatterPanel([138.5, 333.5, 194.5, 517], 0, 0, 24, [0, 12, 24], d2New, d2Old, 22, 15.6);
scatterPanel([209.5, 333.5, 265.5, 517], 0, 0, 18, [0, 9, 18], d4New, d4Old, 22, 15.6);
scatterPanel([280, 333.5, 336, 517], 0, 0, 12, [0, 6, 12], d5New, d5Old, 22, 15.6);
text('D', 51.7, 319.5, 't letter');
text('Control', 98.3, 319.3); text('2μg', 168, 319.3); text('4μg', 238, 319.3); text('5μg', 310, 319.3);
dot(73.3, 471, BLUE); text('New daughters', 83.3, 471, 'l');
dot(73.3, 490, RED); text('Old daughters', 83.3, 490, 'l');
text('Time (h)', 210, 573.3);

// ---- panel B / E ----
barPanel([406, 54.3, 628, 226], tempCats, tempNew, tempOld,
  [[tempNewLo, tempNewHi], [tempOldLo, tempOldHi]], 1.5, 'Temperature (°C)', 57);
text('B', 418.3, 21.5, 't letter');
swatch(433, 4, BLUE); text('New daughters', 448.3, 10.5, 'l');
swatch(433, 21, RED); text('Old daughters', 448.3, 27.5, 'l');

barPanel([406, 344.5, 628, 525.4], strepCats, strepNew, strepOld,
  [[strepNewLo, strepNewHi], [strepOldLo, strepOldHi]], 2.0, 'Streptomycin (μg.ml⁻¹)', 59);
text('E', 418.3, 320.5, 't letter');
swatch(433, 303, BLUE); text('New daughters', 448.3, 309, 'l');
swatch(433, 320.5, RED); text('Old daughters', 448.3, 326.5, 'l');

// ---- panel C / F ----
stackPanel([686, 58.3, 749.2, 225.5], tempUnstable, tempStable);
text('C', 653, 21.5, 't letter');
swatch(669, 5, GREEN); text('Stable', 685, 11.5, 'l');
swatch(669, 22, GREY); text('Unstable', 685, 28.5, 'l');

stackPanel([686, 357.7, 749.2, 525.2], strepUnstable, strepStable);
text('F', 653, 320.7, 't letter');
swatch(669, 305, GREEN); text('Stable', 685, 310.7, 'l');
swatch(669, 321.5, GREY); text('Unstable', 685, 328.3, 'l');
</script>
</body>
</html>
